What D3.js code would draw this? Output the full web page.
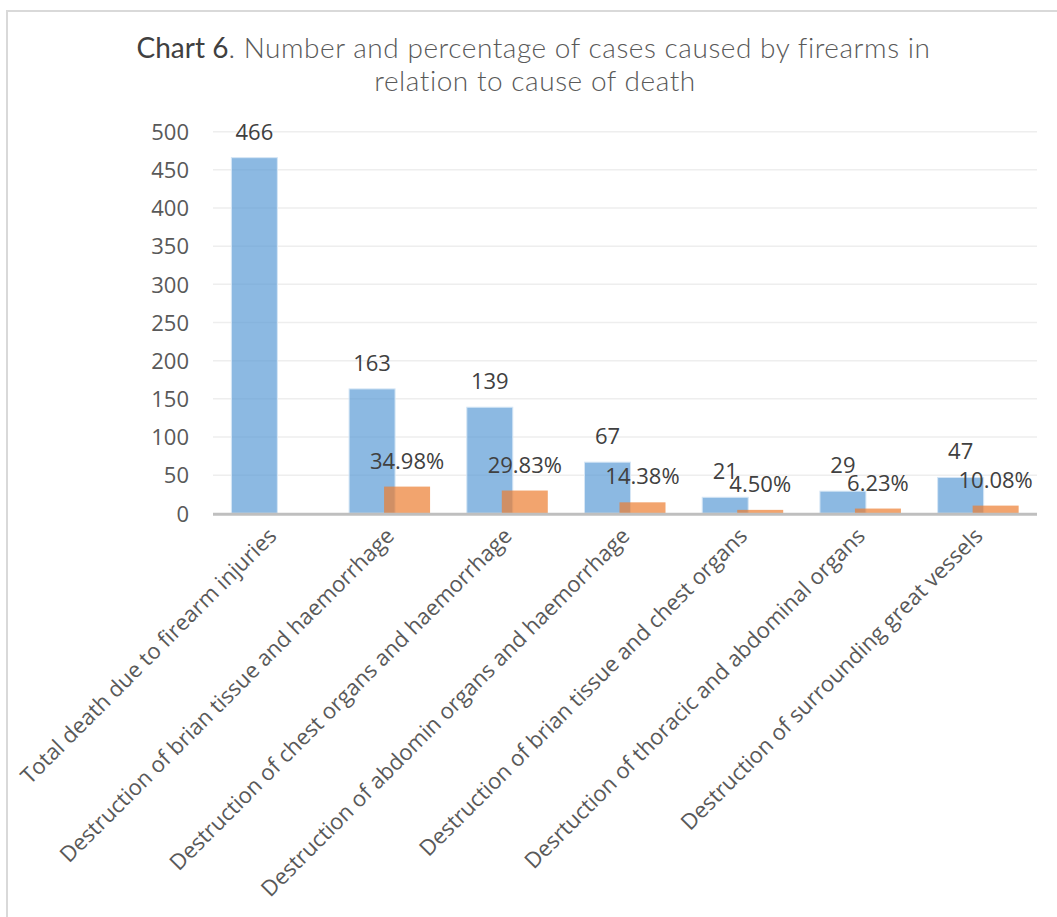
<!DOCTYPE html>
<html>
<head>
<meta charset="utf-8">
<script src="https://cdn.jsdelivr.net/npm/d3@7"></script>
<style>
  html, body { margin: 0; padding: 0; background: #fff; }
  svg { display: block; }
</style>
</head>
<body>
<svg id="chart" width="1057" height="917"></svg>
<script>
// ---- data ----
const categories = [
  "Total death due to firearm injuries",
  "Destruction of brian tissue and haemorrhage",
  "Destruction of chest organs and haemorrhage",
  "Destruction of abdomin organs and haemorrhage",
  "Destruction of brian tissue and chest organs",
  "Desrtuction of thoracic and abdominal organs",
  "Destruction of surrounding great vessels"
];
const counts = [466, 163, 139, 67, 21, 29, 47];
const percents = [null, 34.98, 29.83, 14.38, 4.50, 6.23, 10.08];
const yTicks = [0, 50, 100, 150, 200, 250, 300, 350, 400, 450, 500];
const titleLead = "Chart 6";
const titleRest1 = ". Number and percentage of cases caused by firearms in";
const titleLine2 = "relation to cause of death";

// ---- layout ----
const svg = d3.select("#chart");
const W = 1057, H = 917;
const plot = { left: 213, right: 1037, top: 131.7, bottom: 513.3 };
const labelFont = "'Open Sans', 'Segoe UI', sans-serif";
const textColor = "#595959";

// chart border
svg.append("rect")
  .attr("x", 7).attr("y", 11)
  .attr("width", W + 20).attr("height", H + 20)
  .attr("fill", "none").attr("stroke", "#d9d9d9").attr("stroke-width", 2);

const x = d3.scaleBand().domain(categories).range([plot.left, plot.right]).paddingInner(0).paddingOuter(0);
const y = d3.scaleLinear().domain([0, 500]).range([plot.bottom, plot.top]);

const barW = 46;
const offset = 35; // distance between blue and orange bar left edges

// gridlines
svg.append("g").selectAll("line").data(yTicks.filter(d => d > 0)).join("line")
  .attr("x1", plot.left).attr("x2", plot.right)
  .attr("y1", d => y(d)).attr("y2", d => y(d))
  .attr("stroke", "#eeeeee").attr("stroke-width", 1.5);

// y axis tick labels
const yAxis = d3.axisLeft(y).tickValues(yTicks).tickSize(0).tickPadding(0);
const gy = svg.append("g").attr("transform", `translate(${plot.left - 24},0)`).call(yAxis);
gy.select(".domain").remove();
gy.selectAll("text")
  .attr("font-family", labelFont).attr("font-size", 22).attr("fill", textColor)
  .attr("dy", "0.35em");

// bars
const groupStart = d => x(d) + (x.bandwidth() - (barW + offset)) / 2;

svg.append("g").selectAll("rect").data(categories).join("rect")
  .attr("x", d => groupStart(d))
  .attr("y", (d, i) => y(counts[i]))
  .attr("width", barW)
  .attr("height", (d, i) => y(0) - y(counts[i]))
  .attr("fill", "#5B9BD5").attr("fill-opacity", 0.7)
  .attr("stroke", "#d6e6f5").attr("stroke-width", 1);

svg.append("g").selectAll("rect").data(categories.filter((d, i) => percents[i] != null)).join("rect")
  .attr("x", d => groupStart(d) + offset)
  .attr("y", d => y(percents[categories.indexOf(d)]))
  .attr("width", barW)
  .attr("height", d => y(0) - y(percents[categories.indexOf(d)]))
  .attr("fill", "#ED7D31").attr("fill-opacity", 0.7);

// x axis line
svg.append("line")
  .attr("x1", plot.left).attr("x2", plot.right)
  .attr("y1", plot.bottom + 1).attr("y2", plot.bottom + 1)
  .attr("stroke", "#bfbfbf").attr("stroke-width", 3);

// value labels
svg.append("g").selectAll("text").data(categories).join("text")
  .attr("x", d => groupStart(d) + barW / 2)
  .attr("y", (d, i) => y(counts[i]) - 18)
  .attr("text-anchor", "middle")
  .attr("font-family", labelFont).attr("font-size", 22).attr("fill", "#404040")
  .text((d, i) => counts[i]);

svg.append("g").selectAll("text").data(categories.filter((d, i) => percents[i] != null)).join("text")
  .attr("x", d => groupStart(d) + offset + barW / 2)
  .attr("y", d => y(percents[categories.indexOf(d)]) - 18)
  .attr("text-anchor", "middle")
  .attr("font-family", labelFont).attr("font-size", 22).attr("fill", "#404040")
  .text(d => percents[categories.indexOf(d)].toFixed(2) + "%");

// category labels (rotated)
svg.append("g").selectAll("text").data(categories).join("text")
  .attr("transform", d => `translate(${x(d) + x.bandwidth() / 2 + 6},${plot.bottom + 24}) rotate(-45)`)
  .attr("text-anchor", "end")
  .attr("font-family", labelFont).attr("font-size", 22).attr("fill", textColor)
  .text(d => d);

// title
const title = svg.append("g").attr("font-family", "Lato, 'Open Sans', sans-serif");
const t1 = title.append("text").attr("x", 533.5).attr("y", 58).attr("text-anchor", "middle")
  .attr("font-size", 28);
t1.append("tspan").attr("fill", "#404040").attr("font-weight", 400).text(titleLead);
t1.append("tspan").attr("fill", "#595959").attr("font-weight", 300).attr("letter-spacing", 0.55).text(titleRest1);
title.append("text").attr("x", 535).attr("y", 91).attr("text-anchor", "middle")
  .attr("font-size", 28).attr("fill", "#595959").attr("font-weight", 300).attr("letter-spacing", 0.55)
  .text(titleLine2);
</script>
</body>
</html>
